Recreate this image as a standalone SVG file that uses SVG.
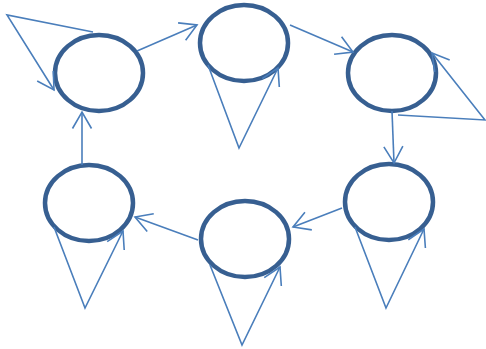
<svg xmlns="http://www.w3.org/2000/svg" width="486" height="349" viewBox="0 0 486 349">
<defs>
<style>
.node{fill:#ffffff;stroke:#375f91;stroke-width:4.5}
.c{fill:none;stroke:#4a7ebb;stroke-width:1.6;stroke-linejoin:miter;marker-end:url(#ah)}
</style>
<marker id="ah" markerUnits="userSpaceOnUse" markerWidth="24" markerHeight="24" viewBox="-20 -12 24 24" refX="0" refY="0" orient="auto" overflow="visible">
<path d="M-16.5,-9.5 L0,0 L-16.5,9.5" fill="none" stroke="#4a7ebb" stroke-width="1.6"/>
</marker>
</defs>
<rect width="486" height="349" fill="#ffffff"/>
<g id="n1"><ellipse class="node" cx="99" cy="73" rx="44" ry="38"/></g>
<g id="n2"><ellipse class="node" cx="244" cy="43" rx="44" ry="38"/></g>
<g id="n3"><ellipse class="node" cx="392" cy="73" rx="44" ry="38"/></g>
<g id="n4"><ellipse class="node" cx="89" cy="203" rx="44" ry="38"/></g>
<g id="n5"><ellipse class="node" cx="245" cy="239" rx="44" ry="38"/></g>
<g id="n6"><ellipse class="node" cx="389" cy="202" rx="44" ry="38"/></g>
<g id="connectors">
<polyline class="c" points="93,32 7,15 54,90"/>
<polyline class="c" points="137,51 197,25"/>
<polyline class="c" points="208,65 239,148 278,68"/>
<polyline class="c" points="290,25 353,52"/>
<polyline class="c" points="398,115 485,120 432,53"/>
<polyline class="c" points="392,111 394,163"/>
<polyline class="c" points="342,208 293,227"/>
<polyline class="c" points="198,240 135,217"/>
<polyline class="c" points="54,227 85,308 123,231"/>
<polyline class="c" points="82,165 82,112"/>
<polyline class="c" points="210,265 242,345 280,267"/>
<polyline class="c" points="355,227 386,308 424,229"/>
</g>
</svg>
